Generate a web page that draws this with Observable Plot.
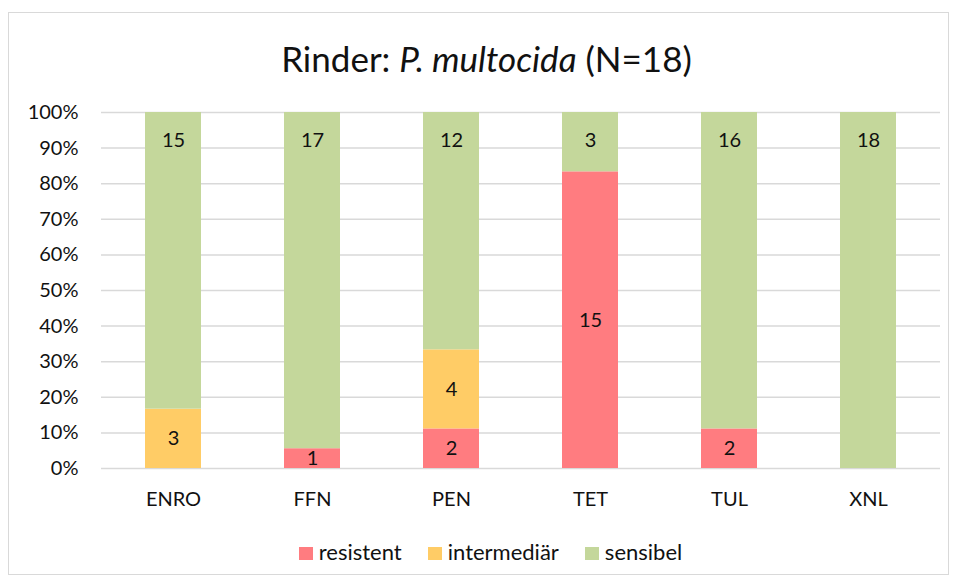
<!DOCTYPE html>
<html>
<head>
<meta charset="utf-8">
<script src="https://cdn.jsdelivr.net/npm/d3@7"></script>
<script src="https://cdn.jsdelivr.net/npm/@observablehq/plot@0.6"></script>
<style>
  body { margin: 0; background: #fff; font-family: Lato, "Open Sans", sans-serif; }
  #wrap { position: relative; width: 957px; height: 583px; overflow: hidden; }
  #frame { position: absolute; left: 8px; top: 12px; width: 939px; height: 561px; border: 1.5px solid #d9d9d9; }
  #title { position: absolute; left: 8px; width: 957px; top: 37px; text-align: center; font-size: 35px; color: #111; line-height: 42px; }
  #chart { position: absolute; left: 0; top: 0; }
  #legend { position: absolute; left: 12px; width: 957px; top: 539px; display: flex; justify-content: center; gap: 26px; font-size: 22px; color: #111; line-height: 26px; }
  #legend span.sw { display: inline-block; width: 14px; height: 13px; margin-right: 6px; vertical-align: 0px; }
</style>
</head>
<body>
<div id="wrap">
  <div id="frame"></div>
  <div id="title">Rinder: <i>P. multocida</i> (N=18)</div>
  <div id="chart"></div>
  <div id="legend"></div>
</div>
<script>
const categories = ["ENRO", "FFN", "PEN", "TET", "TUL", "XNL"];
const statuses = ["resistent", "intermediär", "sensibel"];
const colors = ["#FF7C80", "#FFCC66", "#C4D79B"];
const resistent = [0, 1, 2, 15, 2, 0];
const intermediar = [3, 0, 4, 0, 0, 0];
const sensibel = [15, 17, 12, 3, 16, 18];
const total = 18;
const yTicks = [0, 10, 20, 30, 40, 50, 60, 70, 80, 90, 100];

const series = [resistent, intermediar, sensibel];
const data = [];
categories.forEach((c, i) => {
  statuses.forEach((s, j) => {
    data.push({ cat: c, status: s, count: series[j][i], pct: series[j][i] / total * 100 });
  });
});

const stackOpts = { x: "cat", y: "pct", z: "status", order: statuses };

const plot = Plot.plot({
  width: 957,
  height: 583,
  marginLeft: 101,
  marginRight: 17,
  marginTop: 112,
  marginBottom: 115,
  style: { fontFamily: "Lato, 'Open Sans', sans-serif", fontSize: "20px", color: "#111", background: "transparent" },
  x: { domain: categories, paddingInner: 0.6, paddingOuter: 0.3, label: null },
  y: { domain: [0, 100], label: null },
  color: { domain: statuses, range: colors },
  marks: [
    Plot.ruleY(yTicks, { stroke: "#d9d9d9", strokeWidth: 1.5 }),
    Plot.barY(data, Plot.stackY({ ...stackOpts, fill: "status" })),
    Plot.text(data.filter(d => d.status !== "sensibel" && d.count > 0),
      Plot.stackY({ ...stackOpts, text: "count", fontSize: 20, fill: "#111" })),
    Plot.text(data.filter(d => d.status === "sensibel" && d.count > 0),
      { x: "cat", y: () => 100, dy: 28, text: "count", fontSize: 20, fill: "#111" }),
    Plot.axisY({ ticks: yTicks, tickFormat: d => d + "%", tickSize: 0, tickPadding: 23, label: null, fontSize: 20 }),
    Plot.axisX({ tickSize: 0, tickPadding: 23, label: null, fontSize: 20 })
  ]
});
document.getElementById("chart").appendChild(plot);

const legend = document.getElementById("legend");
statuses.forEach((s, j) => {
  const item = document.createElement("div");
  const sw = document.createElement("span");
  sw.className = "sw";
  sw.style.background = colors[j];
  item.appendChild(sw);
  item.appendChild(document.createTextNode(s));
  legend.appendChild(item);
});
</script>
</body>
</html>
